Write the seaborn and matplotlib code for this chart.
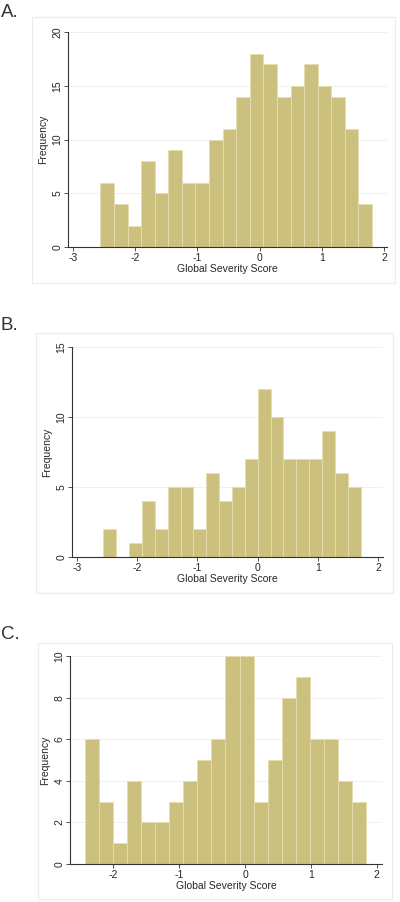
import numpy as np
import pandas as pd
import matplotlib.pyplot as plt
import seaborn as sns
from matplotlib.patches import Rectangle

# --- data (20 bins each) ---
counts_a = [6, 4, 2, 8, 5, 9, 6, 6, 10, 11, 14, 18, 17, 14, 15, 17, 15, 14, 11, 4]
counts_b = [2, 0, 1, 4, 2, 5, 5, 2, 6, 4, 5, 7, 12, 10, 7, 7, 7, 9, 6, 5]
counts_c = [6, 3, 1, 4, 2, 2, 3, 4, 5, 6, 10, 10, 3, 5, 8, 9, 6, 6, 4, 3]

# first bin edge and bin width for each panel
bin_start = [-2.56, -2.56, -2.43]
bin_width = [0.2185, 0.2135, 0.2132]

panel_labels = ['A.', 'B.', 'C.']
y_max = [20, 15, 10]
y_step = [5, 5, 2]
x_ticks_list = [[-3, -2, -1, 0, 1, 2], [-3, -2, -1, 0, 1, 2], [-2, -1, 0, 1, 2]]
x_limits = [(-3.08, 2.05), (-3.08, 2.08), (-2.66, 2.08)]

bar_color = '#CCC07E'

sns.set_theme(style='white')
plt.rcParams['font.family'] = ['Liberation Sans', 'DejaVu Sans']

W, H = 400, 902
fig = plt.figure(figsize=(W / 100, H / 100), dpi=100)

# pixel layout: (frame x0, y0, x1, y1), (axes x0, y_top, x1, y_bottom), label y
frames = [(32, 17, 395, 283), (36, 333, 393, 593), (38, 643, 392, 899)]
axes_px = [(68, 32, 387, 247), (72, 347, 383, 557), (70, 656, 382, 864)]
label_y = [4, 317, 626]

all_counts = [counts_a, counts_b, counts_c]

for i in range(3):
    counts = all_counts[i]
    n = len(counts)
    edges = bin_start[i] + bin_width[i] * np.arange(n + 1)
    centers = (edges[:-1] + edges[1:]) / 2
    df = pd.DataFrame({'score': centers, 'count': counts})

    fx0, fy0, fx1, fy1 = frames[i]
    fig.patches.append(Rectangle((fx0 / W, 1 - fy1 / H), (fx1 - fx0) / W, (fy1 - fy0) / H,
                                 transform=fig.transFigure, facecolor='none',
                                 edgecolor='#EBEBEB', linewidth=0.8, zorder=-1))

    ax0, at, ax1, ab = axes_px[i]
    ax = fig.add_axes([ax0 / W, 1 - ab / H, (ax1 - ax0) / W, (ab - at) / H])
    ax.set_facecolor('none')

    sns.histplot(data=df, x='score', weights='count', bins=edges.tolist(), ax=ax,
                 color=bar_color, alpha=1, edgecolor='#E6DEB0', linewidth=0.6)

    yt = np.arange(0, y_max[i] + 1, y_step[i])
    ax.set_ylim(0, y_max[i])
    ax.set_yticks(yt)
    ax.set_yticklabels([str(v) for v in yt], rotation=90, va='center', fontsize=7.5)
    for v in yt[1:]:
        ax.axhline(v, color='#EEEEEE', linewidth=0.6, zorder=0)

    ax.set_xlim(*x_limits[i])
    ax.set_xticks(x_ticks_list[i])
    ax.set_xticklabels([str(v) for v in x_ticks_list[i]], fontsize=7.5)
    ax.set_xlabel('Global Severity Score', fontsize=7.5, labelpad=1)
    ax.set_ylabel('Frequency', fontsize=7.5, labelpad=3)

    for s in ['top', 'right']:
        ax.spines[s].set_visible(False)
    for s in ['left', 'bottom']:
        ax.spines[s].set_color('#333333')
        ax.spines[s].set_linewidth(0.8)
    ax.tick_params(axis='both', length=3, width=0.6, color='#333333', pad=1,
                   left=True, bottom=True)

    fig.text(1 / W, 1 - label_y[i] / H, panel_labels[i], fontsize=13.5,
             va='top', ha='left', color='#333333')

fig.savefig('out.png', dpi=100)
